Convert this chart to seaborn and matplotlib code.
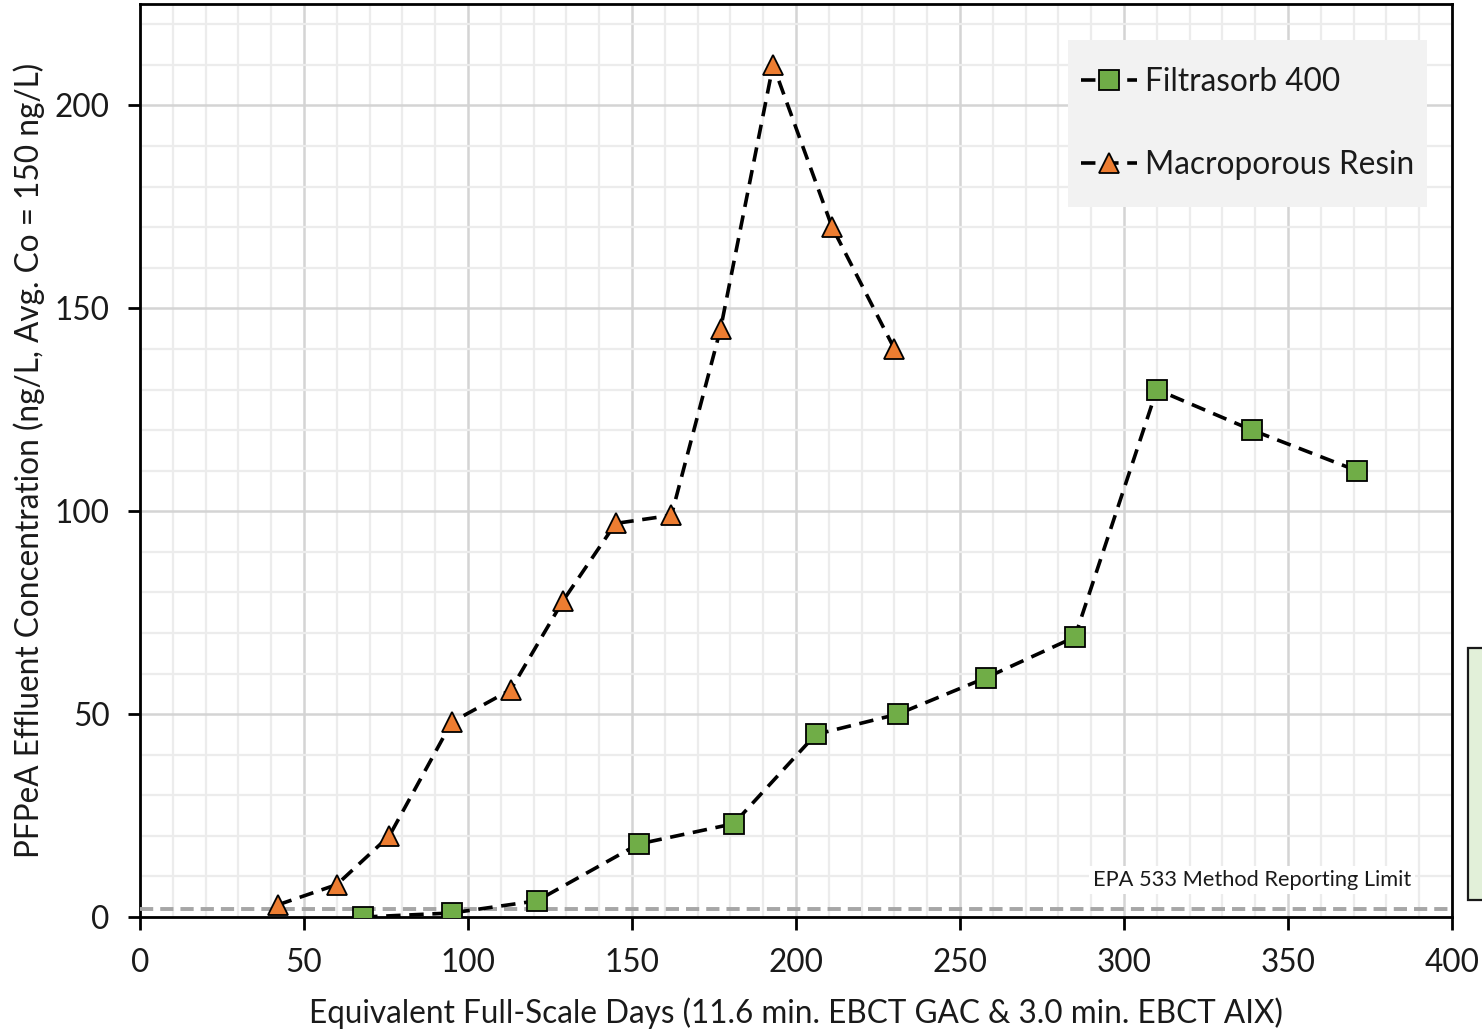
import matplotlib
matplotlib.use("Agg")
import matplotlib.pyplot as plt
from matplotlib.lines import Line2D
from matplotlib.patches import Rectangle
from matplotlib.ticker import MultipleLocator
import pandas as pd
import seaborn as sns

# Breakthrough data: equivalent full-scale days vs. PFPeA effluent concentration
gac_days = [68, 95, 121, 152, 181, 206, 231, 258, 285, 310, 339, 371]
gac_conc = [0, 1, 4, 18, 23, 45, 50, 59, 69, 130, 120, 110]

aix_days = [42, 60, 76, 95, 113, 129, 145, 162, 177, 193, 211, 230]
aix_conc = [3, 8, 20, 48, 56, 78, 97, 99, 145, 210, 170, 140]

mrl_value = 2
series_names = ["Filtrasorb 400", "Macroporous Resin"]

GREEN = "#70ad47"
ORANGE = "#ed7d31"
TEXT = "#1a1a1a"
FS = 22.7

sns.set_theme(style="white")
plt.rcParams["font.family"] = ["Lato", "DejaVu Sans"]

fig = plt.figure(figsize=(14.82, 10.29), dpi=100)
ax = fig.add_axes([0.0945, 0.1088, 0.8853, 0.8873])

gac = pd.DataFrame({"days": gac_days, "conc": gac_conc})
aix = pd.DataFrame({"days": aix_days, "conc": aix_conc})

line_style = dict(color="black", linewidth=2.6, dashes=(4, 2.4), sort=False,
                  markersize=15, markeredgecolor="black", markeredgewidth=1.3,
                  legend=False, zorder=4)

sns.lineplot(data=aix, x="days", y="conc", ax=ax, marker="^",
             markerfacecolor=ORANGE, **line_style)
sns.lineplot(data=gac, x="days", y="conc", ax=ax, marker="s",
             markerfacecolor=GREEN, **line_style)

# Method reporting limit
ax.axhline(mrl_value, color="#a6a6a6", linewidth=2.8, linestyle=(0, (3.4, 1.8)), zorder=3)
ax.text(339, 9.2, "EPA 533 Method Reporting Limit", fontsize=15.7, ha="center",
        va="center", color=TEXT,
        bbox=dict(facecolor="white", edgecolor="none", pad=3), zorder=3)

ax.set_xlim(0, 400)
ax.set_ylim(0, 225)
ax.xaxis.set_major_locator(MultipleLocator(50))
ax.yaxis.set_major_locator(MultipleLocator(50))
ax.xaxis.set_minor_locator(MultipleLocator(10))
ax.yaxis.set_minor_locator(MultipleLocator(10))

ax.grid(which="minor", color="#ececec", linewidth=1.6, zorder=0)
ax.grid(which="major", color="#d4d4d4", linewidth=1.8, zorder=0)
ax.set_axisbelow(True)

for s in ax.spines.values():
    s.set_color("black")
    s.set_linewidth(2)

ax.tick_params(axis="both", which="major", direction="out", length=9, width=2,
               color="black", labelsize=FS, pad=13, labelcolor=TEXT)
ax.tick_params(axis="both", which="minor", length=0)
ax.tick_params(axis="x", bottom=True)
ax.tick_params(axis="y", left=True)

ax.set_xlabel("Equivalent Full-Scale Days (11.6 min. EBCT GAC & 3.0 min. EBCT AIX)",
              fontsize=FS, color=TEXT, labelpad=14)
ax.set_ylabel("PFPeA Effluent Concentration (ng/L, Avg. Co = 150 ng/L)",
              fontsize=FS, color=TEXT, labelpad=7)

# Legend on a light grey panel
ax.add_patch(Rectangle((0.7073, 0.7777), 0.2737, 0.1829, transform=ax.transAxes,
                       facecolor="#f2f2f2", edgecolor="none", zorder=4.5))
handles = [
    Line2D([], [], color="black", linewidth=2.6, linestyle=(0, (4, 2.4)), marker="s",
           markersize=14, markerfacecolor=GREEN, markeredgecolor="black",
           markeredgewidth=1.3),
    Line2D([], [], color="black", linewidth=2.6, linestyle=(0, (4, 2.4)), marker="^",
           markersize=14, markerfacecolor=ORANGE, markeredgecolor="black",
           markeredgewidth=1.3),
]
leg = ax.legend(handles, series_names, loc="center", bbox_to_anchor=(0.8441, 0.869),
                fontsize=FS, frameon=False, handlelength=1.8, handletextpad=0.25,
                labelspacing=1.7, borderpad=0, borderaxespad=0)
leg.set_zorder(5)
for t in leg.get_texts():
    t.set_color(TEXT)

# Side panel peeking in at the right edge
fig.patches.append(Rectangle((1468 / 1482, 1 - 900 / 1029), 0.03, 252 / 1029,
                             transform=fig.transFigure, facecolor="#e2f0d9",
                             edgecolor=TEXT, linewidth=1.6, clip_on=False))

fig.savefig("out.png", dpi=100)
